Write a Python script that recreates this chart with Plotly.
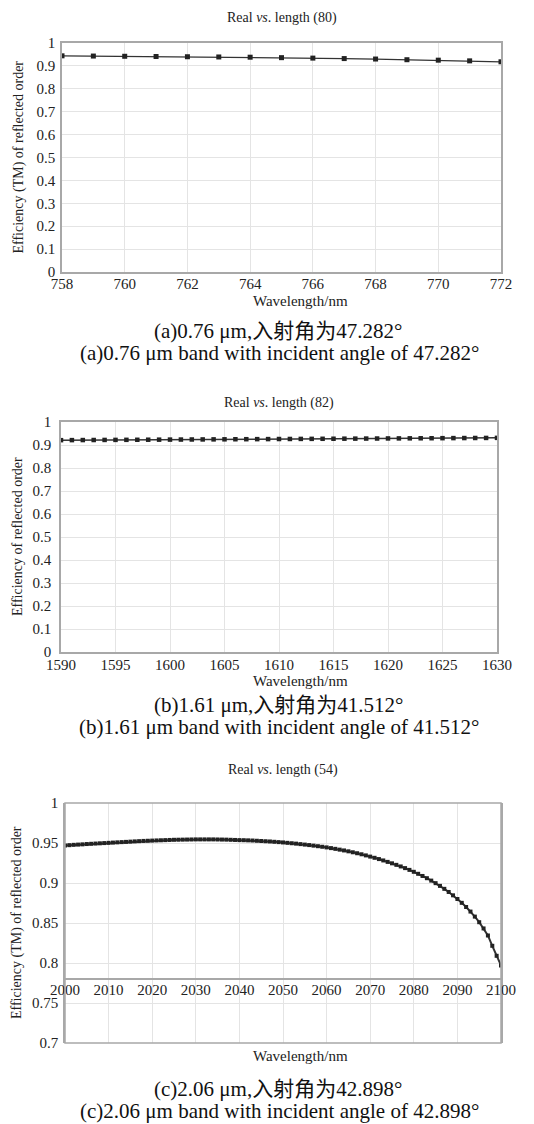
import plotly.graph_objects as go

# ---------------- data ----------------
wl_a = [758, 759, 760, 761, 762, 763, 764, 765, 766, 767, 768, 769, 770, 771, 772]
eff_a = [0.944, 0.943, 0.942, 0.941, 0.940, 0.939, 0.938, 0.936, 0.934, 0.932,
         0.930, 0.927, 0.925, 0.922, 0.918]

wl_b = list(range(1590, 1631))
eff_b = [0.9210, 0.9212, 0.9215, 0.9217, 0.9220, 0.9222, 0.9225, 0.9227, 0.9230, 0.9232,
         0.9235, 0.9237, 0.9240, 0.9242, 0.9245, 0.9247, 0.9250, 0.9252, 0.9255, 0.9257,
         0.9260, 0.9262, 0.9265, 0.9267, 0.9270, 0.9272, 0.9275, 0.9277, 0.9280, 0.9282,
         0.9285, 0.9287, 0.9290, 0.9292, 0.9295, 0.9297, 0.9300, 0.9302, 0.9305, 0.9307,
         0.9310]

wl_c = list(range(2000, 2101))
eff_c = [0.9470, 0.9473, 0.9477, 0.9480, 0.9483, 0.9487, 0.9490, 0.9493, 0.9496, 0.9499,
         0.9502, 0.9505, 0.9508, 0.9511, 0.9514, 0.9517, 0.9520, 0.9523, 0.9526, 0.9528,
         0.9530, 0.9532, 0.9534, 0.9536, 0.9538, 0.9540, 0.9541, 0.9542, 0.9543, 0.9544,
         0.9545, 0.9545, 0.9545, 0.9545, 0.9545, 0.9544, 0.9543, 0.9542, 0.9540, 0.9538,
         0.9536, 0.9535, 0.9533, 0.9531, 0.9528, 0.9525, 0.9522, 0.9519, 0.9515, 0.9511,
         0.9507, 0.9502, 0.9497, 0.9492, 0.9486, 0.9480, 0.9474, 0.9467, 0.9460, 0.9453,
         0.9445, 0.9436, 0.9427, 0.9417, 0.9407, 0.9396, 0.9384, 0.9372, 0.9359, 0.9345,
         0.9330, 0.9315, 0.9299, 0.9282, 0.9264, 0.9246, 0.9227, 0.9207, 0.9186, 0.9164,
         0.9140, 0.9115, 0.9088, 0.9060, 0.9030, 0.8998, 0.8964, 0.8927, 0.8888, 0.8846,
         0.8800, 0.8752, 0.8700, 0.8643, 0.8580, 0.8510, 0.8432, 0.8344, 0.8215, 0.8090,
         0.7970]

yticks_ab = [0, 0.1, 0.2, 0.3, 0.4, 0.5, 0.6, 0.7, 0.8, 0.9, 1]
yticktext_ab = ["0", "0.1", "0.2", "0.3", "0.4", "0.5", "0.6", "0.7", "0.8", "0.9", "1"]
xticks_a = [758, 760, 762, 764, 766, 768, 770, 772]
xticks_b = [1590, 1595, 1600, 1605, 1610, 1615, 1620, 1625, 1630]
xticks_c = [2000, 2010, 2020, 2030, 2040, 2050, 2060, 2070, 2080, 2090, 2100]
yticks_c = [0.7, 0.75, 0.8, 0.85, 0.9, 0.95, 1]
yticktext_c = ["0.7", "0.75", "0.8", "0.85", "0.9", "0.95", "1"]

titles = ["Real <i>vs</i>. length (80)", "Real <i>vs</i>. length (82)", "Real <i>vs</i>. length (54)"]
ytitles = ["Efficiency (TM) of reflected order", "Efficiency of reflected order",
           "Efficiency (TM) of reflected order"]
xtitle = "Wavelength/nm"
captions_cn = ["(a)0.76 μm,入射角为47.282°", "(b)1.61 μm,入射角为41.512°", "(c)2.06 μm,入射角为42.898°"]
captions_en = ["(a)0.76 μm band with incident angle of 47.282°",
               "(b)1.61 μm band with incident angle of 41.512°",
               "(c)2.06 μm band with incident angle of 42.898°"]

# ---------------- layout helpers ----------------
W, H = 534, 1124
OFF = 8  # the page body margin shifts the figure by 8 px

def px(p):
    return (p - OFF) / W
def py(p):
    return 1 - (p - OFF) / H

FONT = "Liberation Serif"
GRID = "#e4e4e4"
BORDER = "#a8a8a8"
INK = "#222222"

fig = go.Figure()
fig.add_trace(go.Scatter(x=wl_a, y=eff_a, xaxis="x", yaxis="y", mode="lines+markers",
                         line=dict(color="#333333", width=1.2),
                         marker=dict(symbol="square", size=5, color=INK), showlegend=False))
fig.add_trace(go.Scatter(x=wl_b, y=eff_b, xaxis="x2", yaxis="y2", mode="lines+markers",
                         line=dict(color="#333333", width=1.5),
                         marker=dict(symbol="square", size=4.5, color=INK), showlegend=False))
fig.add_trace(go.Scatter(x=wl_c, y=eff_c, xaxis="x3", yaxis="y3", mode="lines+markers",
                         line=dict(color="#333333", width=2),
                         marker=dict(symbol="square", size=4, color=INK), showlegend=False))

def tf():
    return dict(family=FONT, size=15, color="#222")

# panel geometry in reference pixels: (left, right, top, bottom)
geo = [(62, 501, 43, 272), (61, 497, 422, 652), (65, 501, 803, 1043)]

def xax(i, ticks, rng, standoff=-3):
    l, r, t, b = geo[i]
    return dict(domain=[px(l), px(r)], range=rng, tickvals=ticks, showgrid=True,
                gridcolor=GRID, gridwidth=1, zeroline=False, showline=True,
                linecolor=BORDER, linewidth=1.5, mirror=True, ticks="",
                ticklabelstandoff=standoff,
                tickfont=tf(), automargin=False, fixedrange=True)

def yax(i, ticks, text, rng, standoff=2):
    l, r, t, b = geo[i]
    return dict(domain=[py(b), py(t)], range=rng, tickvals=ticks, ticktext=text,
                showgrid=True, gridcolor=GRID, gridwidth=1, zeroline=False,
                showline=True, linecolor=BORDER, linewidth=1.5, mirror=True,
                ticks="", ticklabelstandoff=standoff,
                tickfont=tf(), automargin=False, fixedrange=True)

x1 = xax(0, xticks_a, [758, 772]); x1["anchor"] = "y"
y1 = yax(0, yticks_ab, yticktext_ab, [0, 1]); y1["anchor"] = "x"
x2 = xax(1, xticks_b, [1590, 1630], standoff=-2); x2["anchor"] = "y2"
y2 = yax(1, yticks_ab, yticktext_ab, [0, 1], standoff=5); y2["anchor"] = "x2"
x3 = xax(2, xticks_c, [2000, 2100])
y3 = yax(2, yticks_c, yticktext_c, [0.7, 1]); y3["anchor"] = "x3"
# panel (c): the wavelength axis crosses at 0.78 inside the plot
l3, r3, t3, b3 = geo[2]
x3.update(anchor="free", mirror=False,
          position=py(b3) + (0.78 - 0.7) / 0.3 * (py(t3) - py(b3)))

annotations = []
title_y = [18, 403, 770]
xtitle_y = [301, 681, 1056]
cap_y = [(331, 353), (705, 727), (1089, 1111)]
ytitle_x = [18, 17, 17]
for i in range(3):
    l, r, t, b = geo[i]
    annotations.append(dict(text=titles[i], x=px((l + r) / 2), y=py(title_y[i]),
                            xref="paper", yref="paper", showarrow=False,
                            font=dict(family=FONT, size=14, color="#222"),
                            xanchor="center", yanchor="middle"))
    annotations.append(dict(text=xtitle, x=px(300), y=py(xtitle_y[i]),
                            xref="paper", yref="paper", showarrow=False,
                            font=dict(family=FONT, size=15, color="#222"),
                            xanchor="center", yanchor="middle"))
    annotations.append(dict(text=ytitles[i], x=px(ytitle_x[i]), y=py((t + b) / 2),
                            xref="paper", yref="paper", showarrow=False, textangle=-90,
                            font=dict(family=FONT, size=14, color="#222"),
                            xanchor="center", yanchor="middle"))
    annotations.append(dict(text=captions_cn[i], x=px(278), y=py(cap_y[i][0]),
                            xref="paper", yref="paper", showarrow=False,
                            font=dict(family="Liberation Serif, Noto Sans CJK SC", size=21, color="#111"),
                            xanchor="center", yanchor="middle"))
    annotations.append(dict(text=captions_en[i], x=px(279), y=py(cap_y[i][1]),
                            xref="paper", yref="paper", showarrow=False,
                            font=dict(family=FONT, size=21, color="#111"),
                            xanchor="center", yanchor="middle"))

shapes = [dict(type="rect", xref="x3 domain", yref="y3 domain", x0=0, x1=1, y0=0, y1=1,
               line=dict(color=BORDER, width=1.5), fillcolor="rgba(0,0,0,0)", layer="above")]

fig.update_layout(
    template="none",
    width=W, height=H, autosize=False,
    margin=dict(l=0, r=0, t=0, b=0, pad=0, autoexpand=False),
    paper_bgcolor="white", plot_bgcolor="white",
    xaxis=x1, yaxis=y1, xaxis2=x2, yaxis2=y2, xaxis3=x3, yaxis3=y3,
    annotations=annotations, shapes=shapes, showlegend=False,
    font=dict(family=FONT, size=15, color="#222"),
)

fig.write_html("out.html", config={"displayModeBar": False})
